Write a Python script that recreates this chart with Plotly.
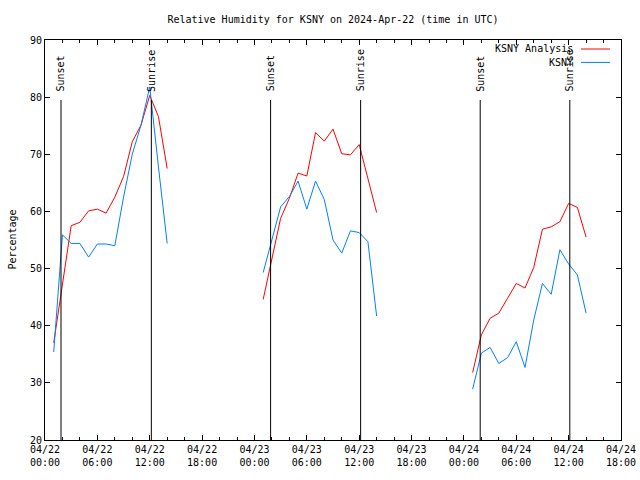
import plotly.graph_objects as go

# ---- data ----
days = ["2024-04-22", "2024-04-23", "2024-04-24"]
hours = ["01:00", "02:00", "03:00", "04:00", "05:00", "06:00", "07:00",
         "08:00", "09:00", "10:00", "11:00", "12:00", "13:00", "14:00"]

analysis_day1 = [37.0, 47.5, 57.5, 58.1, 60.1, 60.4, 59.7, 62.5, 66.1, 72.2, 75.1, 80.3, 76.6, 67.5]
analysis_day2 = [44.6, 52.0, 58.8, 62.3, 66.7, 66.2, 73.8, 72.3, 74.4, 70.1, 69.9, 71.7, 65.8, 59.8]
analysis_day3 = [31.8, 38.4, 41.3, 42.2, 44.8, 47.4, 46.6, 50.2, 56.9, 57.3, 58.2, 61.4, 60.7, 55.5]

obs_day1 = [35.4, 55.9, 54.4, 54.4, 52.0, 54.3, 54.3, 54.0, 62.5, 70.0, 75.1, 81.8, 67.8, 54.4]
obs_day2 = [49.3, 55.0, 60.8, 62.6, 65.3, 60.4, 65.3, 62.1, 55.0, 52.7, 56.6, 56.3, 54.7, 41.7]
obs_day3 = [28.9, 35.2, 36.2, 33.4, 34.4, 37.2, 32.7, 41.0, 47.4, 45.5, 53.3, 50.8, 48.9, 42.2]

sunsets = ["2024-04-22 01:50", "2024-04-23 01:51", "2024-04-24 01:52"]
sunrises = ["2024-04-22 12:11", "2024-04-23 12:10", "2024-04-24 12:08"]

tick_times = ["2024-04-22 00:00", "2024-04-22 06:00", "2024-04-22 12:00", "2024-04-22 18:00",
              "2024-04-23 00:00", "2024-04-23 06:00", "2024-04-23 12:00", "2024-04-23 18:00",
              "2024-04-24 00:00", "2024-04-24 06:00", "2024-04-24 12:00", "2024-04-24 18:00"]
tick_labels = ["04/22<br>00:00", "04/22<br>06:00", "04/22<br>12:00", "04/22<br>18:00",
               "04/23<br>00:00", "04/23<br>06:00", "04/23<br>12:00", "04/23<br>18:00",
               "04/24<br>00:00", "04/24<br>06:00", "04/24<br>12:00", "04/24<br>18:00"]
x_range = ["2024-04-22 00:00", "2024-04-24 18:00"]
y_ticks = [20, 30, 40, 50, 60, 70, 80, 90]

RED = "#ff0000"
BLUE = "#0080ff"
FONT = "DejaVu Sans Mono"


def join(series_by_day):
    xs, ys = [], []
    for d, vals in zip(days, series_by_day):
        for h, v in zip(hours, vals):
            xs.append(f"{d} {h}")
            ys.append(v)
        xs.append(None)
        ys.append(None)
    return xs, ys


xa, ya = join([analysis_day1, analysis_day2, analysis_day3])
xo, yo = join([obs_day1, obs_day2, obs_day3])

fig = go.Figure()
fig.add_trace(go.Scatter(x=xa, y=ya, mode="lines", name="KSNY Analysis",
                         line=dict(color=RED, width=1), connectgaps=False, showlegend=False))
fig.add_trace(go.Scatter(x=xo, y=yo, mode="lines", name="KSNY",
                         line=dict(color=BLUE, width=1), connectgaps=False, showlegend=False))

annotations = []
shapes = []
for t in sunsets:
    shapes.append(dict(type="line", xref="x", yref="paper", x0=t, x1=t, y0=0, y1=0.85,
                       line=dict(color="black", width=1)))
    annotations.append(dict(x=t, xref="x", y=0.866, yref="paper", text="Sunset", textangle=-90,
                            showarrow=False, xanchor="center", yanchor="bottom",
                            font=dict(family=FONT, size=10, color="black")))
for t in sunrises:
    shapes.append(dict(type="line", xref="x", yref="paper", x0=t, x1=t, y0=0, y1=0.85,
                       line=dict(color="black", width=1)))
    annotations.append(dict(x=t, xref="x", y=0.866, yref="paper", text="Sunrise", textangle=-90,
                            showarrow=False, xanchor="center", yanchor="bottom",
                            font=dict(family=FONT, size=10, color="black")))

# legend drawn gnuplot-style: right-aligned text then line sample
legend_items = [("KSNY Analysis", RED, 0.9775), ("KSNY", BLUE, 0.944)]
for name, col, yy in legend_items:
    annotations.append(dict(x=0.921, xref="paper", y=yy, yref="paper", text=name,
                            showarrow=False, xanchor="right", yanchor="middle",
                            font=dict(family=FONT, size=10, color="black")))
    shapes.append(dict(type="line", xref="paper", yref="paper", x0=0.9306, x1=0.9809,
                       y0=yy, y1=yy, line=dict(color=col, width=1)))

annotations.append(dict(x=-0.058, xref="paper", y=0.5, yref="paper", text="Percentage",
                        textangle=-90, showarrow=False, xanchor="center", yanchor="middle",
                        font=dict(family=FONT, size=10, color="black")))

fig.update_layout(
    width=640, height=480, autosize=False,
    margin=dict(l=45, r=19, t=40, b=40, autoexpand=False),
    paper_bgcolor="white", plot_bgcolor="white",
    font=dict(family=FONT, size=10, color="black"),
    title=dict(text="Relative Humidity for KSNY on 2024-Apr-22 (time in UTC)",
               x=0.5, xref="paper", xanchor="center",
               y=1 - 19 / 480, yref="container", yanchor="middle",
               font=dict(family=FONT, size=10, color="black")),
    shapes=shapes, annotations=annotations,
    showlegend=False,
)
fig.update_xaxes(type="date", range=x_range, tickmode="array", tickvals=tick_times,
                 ticktext=tick_labels, ticks="inside", ticklen=5, tickcolor="black",
                 showline=True, linecolor="black", linewidth=1, mirror="ticks",
                 showgrid=False, zeroline=False, automargin=False,
                 minor=dict(dtick=2 * 3600 * 1000, tick0="2024-04-22", ticks="inside",
                            ticklen=3, tickcolor="black", showgrid=False),
                 tickfont=dict(family=FONT, size=10, color="black"))
fig.update_yaxes(range=[20, 90], tickmode="array", tickvals=y_ticks, ticks="inside",
                 ticklen=5, tickcolor="black", showline=True, linecolor="black",
                 linewidth=1, mirror="ticks", showgrid=False, zeroline=False,
                 automargin=False,
                 tickfont=dict(family=FONT, size=10, color="black"))

fig.write_html("out.html", config={"displayModeBar": False},
               post_script="document.body.style.margin='0';document.body.style.padding='0';")
